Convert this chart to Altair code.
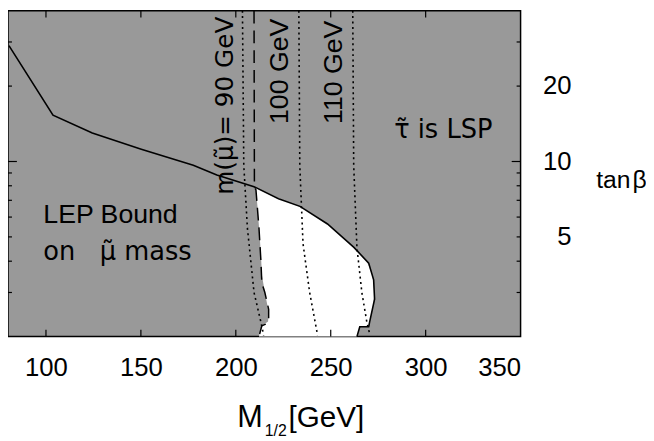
import altair as alt
import pandas as pd

W, H = 519, 330
FONT = "Liberation Sans"
FONT_T = "DejaVu Sans"

# --- boundary curve (stau-LSP / tan beta limit) ---
curve_x = [80.5, 103.7, 124.4, 150.2, 177.6, 190.0, 209.6, 222.5, 233.8, 248.3,
           262.2, 270.0, 272.6, 273.1, 270.5, 270.0, 265.3, 263.8]
curve_tb = [29.0, 15.3, 13.0, 11.2, 9.66, 8.83, 7.93, 7.1, 6.62, 5.63,
            4.54, 3.93, 3.37, 2.82, 2.29, 2.19, 2.19, 2.0]

# --- allowed (white) region, left and right edge at tan beta levels ---
white_tb = [7.9, 7.5, 7.0, 6.5, 6.0, 5.5, 5.0, 4.5, 4.0, 3.5, 3.0, 2.7, 2.5, 2.3, 2.2, 2.19, 2.0]
white_left = [210.3, 210.8, 211.1, 211.5, 211.8, 212.2, 212.6, 213.0, 213.4, 213.8,
              215.3, 216.5, 217.3, 217.0, 213.5, 213.4, 212.2]
white_right = [210.3, 216.5, 224.9, 235.6, 242.9, 250.0, 256.3, 262.7, 269.1, 272.0,
               273.0, 272.5, 271.5, 270.6, 270.0, 265.3, 263.8]

# --- LEP bound (dashed) ---
dash_x = [209.6, 209.8, 210.6, 211.1, 212.2, 213.2, 213.7, 215.3, 217.3, 217.3, 216.3, 213.7, 212.2]
dash_tb = [40.0, 7.9, 7.72, 6.93, 5.43, 4.04, 3.28, 3.0, 2.57, 2.35, 2.25, 2.21, 2.0]

# --- smuon mass contours (dotted) ---
m90_x = [203.5, 204.2, 205.3, 206.1, 209.6, 213.2, 214.7]
m90_tb = [40.0, 9.66, 6.93, 5.43, 3.0, 2.29, 2.02]
m100_x = [233.2, 233.7, 235.4, 238.9, 243.1]
m100_tb = [40.0, 9.66, 4.7, 3.0, 2.02]
m110_x = [261.6, 262.1, 263.8, 266.4, 269.0, 270.7]
m110_tb = [40.0, 9.66, 4.54, 3.0, 2.29, 2.02]

# --- ticks ---
x_ticks = [100, 150, 200, 250, 300]
x_labels = [100, 150, 200, 250, 300, 350]
y_minor = [3, 4, 5, 6, 7, 8, 9, 20, 30]
y_major = [10]
y_labels = [5, 10, 20]

# --- annotations ---
rot_text = ["100 GeV", "110 GeV"]
rot_x = [223.4, 251.8]
rot_tb = [22.9, 22.7]
rot_t_text = ["m(\u03bc\u0303)= 90 GeV"]
rot_t_x = [194.6]
rot_t_tb = [16.7]
hor_text = ["LEP Bound"]
hor_x = [98.6]
hor_tb = [5.68]
hor_t_text = ["on\u00a0\u00a0\u00a0\u03bc\u0303 mass", "\u03c4\u0303 is LSP"]
hor_t_x = [98.6, 283.4]
hor_t_tb = [4.04, 12.4]

xs = alt.Scale(domain=[80, 350], nice=False, zero=False)
ys = alt.Scale(type="log", domain=[2, 40], nice=False)
xaxis = alt.Axis(values=x_labels, ticks=False, domain=False, grid=False,
                 labelFontSize=26, labelFont=FONT, labelColor="black",
                 labelPadding=18, labelBaseline="top", title=None)
yaxis = alt.Axis(orient="right", values=y_labels, ticks=False, domain=False, grid=False,
                 labelFontSize=26, labelFont=FONT, labelColor="black",
                 labelAlign="right", labelBaseline="middle", labelPadding=51,
                 title="tan\u200a\u03b2", titleAngle=0, titleAlign="left",
                 titleBaseline="alphabetic", titleX=76, titleY=179,
                 titleFontSize=25, titleFont=FONT, titleFontWeight="normal",
                 titleColor="black")


def X(f):
    return alt.X(f, type="quantitative", scale=xs, axis=xaxis)


def Y(f):
    return alt.Y(f, type="quantitative", scale=ys, axis=yaxis)


def line_df(xv, yv):
    return pd.DataFrame({"x": xv, "y": yv, "i": list(range(len(xv)))})


white = alt.Chart(pd.DataFrame({"y": white_tb, "x": white_left, "x2": white_right})).mark_area(
    orient="horizontal", color="white", opacity=1
).encode(y=Y("y"), x=X("x"), x2="x2")

curve = alt.Chart(line_df(curve_x, curve_tb)).mark_line(color="black", strokeWidth=1.6).encode(
    x=X("x"), y=Y("y"), order="i")

dashed = alt.Chart(line_df(dash_x, dash_tb)).mark_line(
    color="black", strokeWidth=1.5, strokeDash=[13, 7]).encode(x=X("x"), y=Y("y"), order="i")

dotted = []
for xv, yv in [(m90_x, m90_tb), (m100_x, m100_tb), (m110_x, m110_tb)]:
    dotted.append(alt.Chart(line_df(xv, yv)).mark_line(
        color="black", strokeWidth=1.6, strokeDash=[2, 3.5]).encode(x=X("x"), y=Y("y"), order="i"))

xt = pd.DataFrame({"x": x_ticks})
xtick_b = alt.Chart(xt).mark_rule(color="black", strokeWidth=1.2).encode(
    x=X("x"), y=alt.value(H - 7), y2=alt.value(H))
xtick_t = alt.Chart(xt).mark_rule(color="black", strokeWidth=1.2).encode(
    x=X("x"), y=alt.value(0), y2=alt.value(7))

ymn = pd.DataFrame({"y": y_minor})
ymj = pd.DataFrame({"y": y_major})
ytick = []
for df, ln in [(ymn, 4), (ymj, 9)]:
    ytick.append(alt.Chart(df).mark_rule(color="black", strokeWidth=1.2).encode(
        y=Y("y"), x=alt.value(0), x2=alt.value(ln)))
    ytick.append(alt.Chart(df).mark_rule(color="black", strokeWidth=1.2).encode(
        y=Y("y"), x=alt.value(W - ln), x2=alt.value(W)))

rot = alt.Chart(pd.DataFrame({"x": rot_x, "y": rot_tb, "t": rot_text})).mark_text(
    angle=270, align="center", baseline="middle", fontSize=27, font=FONT, color="black"
).encode(x=X("x"), y=Y("y"), text="t")

rot_t = alt.Chart(pd.DataFrame({"x": rot_t_x, "y": rot_t_tb, "t": rot_t_text})).mark_text(
    angle=270, align="center", baseline="middle", fontSize=25, font=FONT_T, color="black"
).encode(x=X("x"), y=Y("y"), text="t")

hor = alt.Chart(pd.DataFrame({"x": hor_x, "y": hor_tb, "t": hor_text})).mark_text(
    align="left", baseline="alphabetic", fontSize=27, font=FONT, color="black"
).encode(x=X("x"), y=Y("y"), text="t")

hor_t = alt.Chart(pd.DataFrame({"x": hor_t_x, "y": hor_t_tb, "t": hor_t_text})).mark_text(
    align="left", baseline="alphabetic", fontSize=26, font=FONT_T, color="black"
).encode(x=X("x"), y=Y("y"), text="t")

# x-axis title built from pieces (subscript)
title_parts = ["M", "1/2", "[GeV]"]
tM = alt.Chart(pd.DataFrame({"t": [title_parts[0]]})).mark_text(
    align="left", baseline="alphabetic", fontSize=31, font=FONT, color="black"
).encode(text="t", x=alt.value(232), y=alt.value(422))
tS = alt.Chart(pd.DataFrame({"t": [title_parts[1]]})).mark_text(
    align="left", baseline="alphabetic", fontSize=16, font=FONT, color="black"
).encode(text="t", x=alt.value(260), y=alt.value(431))
tG = alt.Chart(pd.DataFrame({"t": [title_parts[2]]})).mark_text(
    align="left", baseline="alphabetic", fontSize=30, font=FONT, color="black"
).encode(text="t", x=alt.value(284), y=alt.value(422))

chart = alt.layer(
    white, *dotted, dashed, curve, xtick_b, xtick_t, *ytick, rot, rot_t, hor, hor_t, tM, tS, tG
).properties(
    width=W, height=H,
    autosize=alt.AutoSizeParams(type="none"),
    padding={"left": 0, "top": 0, "right": 127, "bottom": 103},
).configure_view(
    fill="#999999", stroke="black", strokeWidth=1.5
)

chart.save("out.html", embed_options={"renderer": "svg", "actions": False})
